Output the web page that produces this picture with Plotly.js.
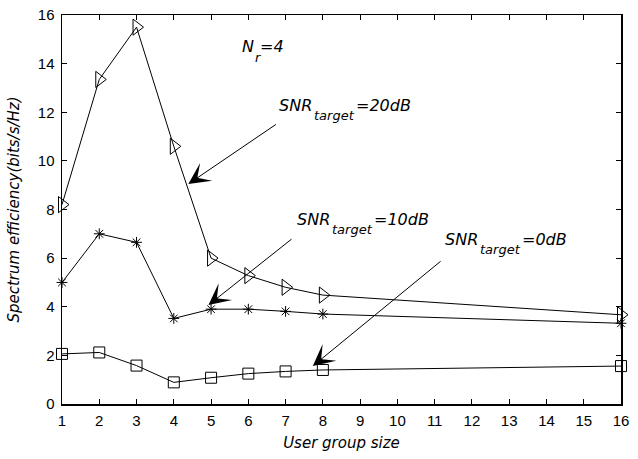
<!DOCTYPE html>
<html>
<head>
<meta charset="utf-8">
<script src="https://cdn.plot.ly/plotly-3.0.1.min.js"></script>
<style>html,body{margin:0;padding:0;background:#fff}#chart{width:638px;height:459px}</style>
</head>
<body>
<div id="chart"></div>
<script>
// Data
const userGroupSize = [1, 2, 3, 4, 5, 6, 7, 8, 16];
const snr20dB = [8.2, 13.35, 15.5, 10.6, 6.0, 5.28, 4.8, 4.48, 3.67];
const snr10dB = [5.0, 7.0, 6.65, 3.52, 3.9, 3.9, 3.81, 3.7, 3.32];
const snr0dB  = [2.06, 2.12, 1.58, 0.89, 1.08, 1.25, 1.34, 1.4, 1.56];
const xTicks = [1,2,3,4,5,6,7,8,9,10,11,12,13,14,15,16];
const yTicks = [0,2,4,6,8,10,12,14,16];

const lineStyle = {color: '#000', width: 1};
const traces = [
  {x: userGroupSize, y: snr20dB, mode: 'lines+markers', name: 'SNR 20dB', line: lineStyle,
   marker: {symbol: 'triangle-right-open', size: 14, color: '#000', line: {width: 1, color: '#000'}}, cliponaxis: false},
  {x: userGroupSize, y: snr10dB, mode: 'lines+markers', name: 'SNR 10dB', line: lineStyle,
   marker: {symbol: 'asterisk-open', size: 9, color: '#000', line: {width: 1, color: '#000'}}, cliponaxis: false},
  {x: userGroupSize, y: snr0dB, mode: 'lines+markers', name: 'SNR 0dB', line: lineStyle,
   marker: {symbol: 'square-open', size: 11, color: '#000', line: {width: 1, color: '#000'}}, cliponaxis: false}
];

const mainFont = {family: 'DejaVu Sans', size: 16, color: '#000', style: 'italic'};
const subFont = {family: 'DejaVu Sans', size: 13, color: '#000', style: 'italic'};
function piece(x, y, text, font, xshift, yshift) {
  return {x: x, y: y, xref: 'x', yref: 'y', xanchor: 'left', yanchor: 'middle', showarrow: false,
    text: '<i>' + text + '</i>', font: font, xshift: xshift, yshift: yshift};
}
function snrLabel(x, y, value) {
  return [piece(x, y, 'SNR', mainFont, 0, 0),
          piece(x, y, 'target', subFont, 35, -10),
          piece(x, y, '=' + value, mainFont, 77, 0)];
}
function arrow(xTip, yTip, xTail, yTail) {
  return {x: xTip, y: yTip, ax: xTail, ay: yTail, xref: 'x', yref: 'y', axref: 'x', ayref: 'y',
    text: '', showarrow: true, arrowhead: 3, arrowsize: 3.6, arrowwidth: 1, arrowcolor: '#000', standoff: 0};
}
const annotations = [].concat(
  [piece(5.78, 14.71, 'N', mainFont, 0, 0), piece(5.78, 14.71, 'r', subFont, 13, -11), piece(5.78, 14.71, '=4', mainFont, 18, 0)],
  snrLabel(6.76, 12.26, '20dB'),
  snrLabel(7.25, 7.59, '10dB'),
  snrLabel(11.23, 6.77, '0dB'),
  [arrow(4.39, 9.05, 6.78, 11.54),
   arrow(4.93, 4.07, 7.2, 6.83),
   arrow(7.73, 1.56, 11.2, 5.92)]
);

const axisCommon = {
  showgrid: false, zeroline: false, showline: true, linecolor: '#000', linewidth: 1.5, mirror: 'ticks',
  ticks: 'inside', ticklen: 5, tickwidth: 1, tickcolor: '#000',
  tickfont: {family: 'Liberation Sans, Arial, sans-serif', size: 15, color: '#000'}
};
const layout = {
  width: 638, height: 459,
  margin: {l: 62, r: 17, t: 15, b: 55},
  paper_bgcolor: '#fff', plot_bgcolor: '#fff',
  showlegend: false,
  xaxis: Object.assign({}, axisCommon, {range: [1, 16], tickvals: xTicks, ticktext: xTicks.map(String),
    ticklabelstandoff: 2,
    title: {text: '<i>User group size</i>', font: {family: 'DejaVu Sans', size: 15, color: '#000'}, standoff: 10}}),
  yaxis: Object.assign({}, axisCommon, {range: [0, 16], tickvals: yTicks, ticktext: yTicks.map(String),
    ticklabelstandoff: 3,
    title: {text: '<i>Spectrum efficiency(bits/s/Hz)</i>', font: {family: 'DejaVu Sans', size: 15, color: '#000'}, standoff: 14}}),
  annotations: annotations
};
Plotly.newPlot('chart', traces, layout, {staticPlot: true, displayModeBar: false});
</script>
</body>
</html>
